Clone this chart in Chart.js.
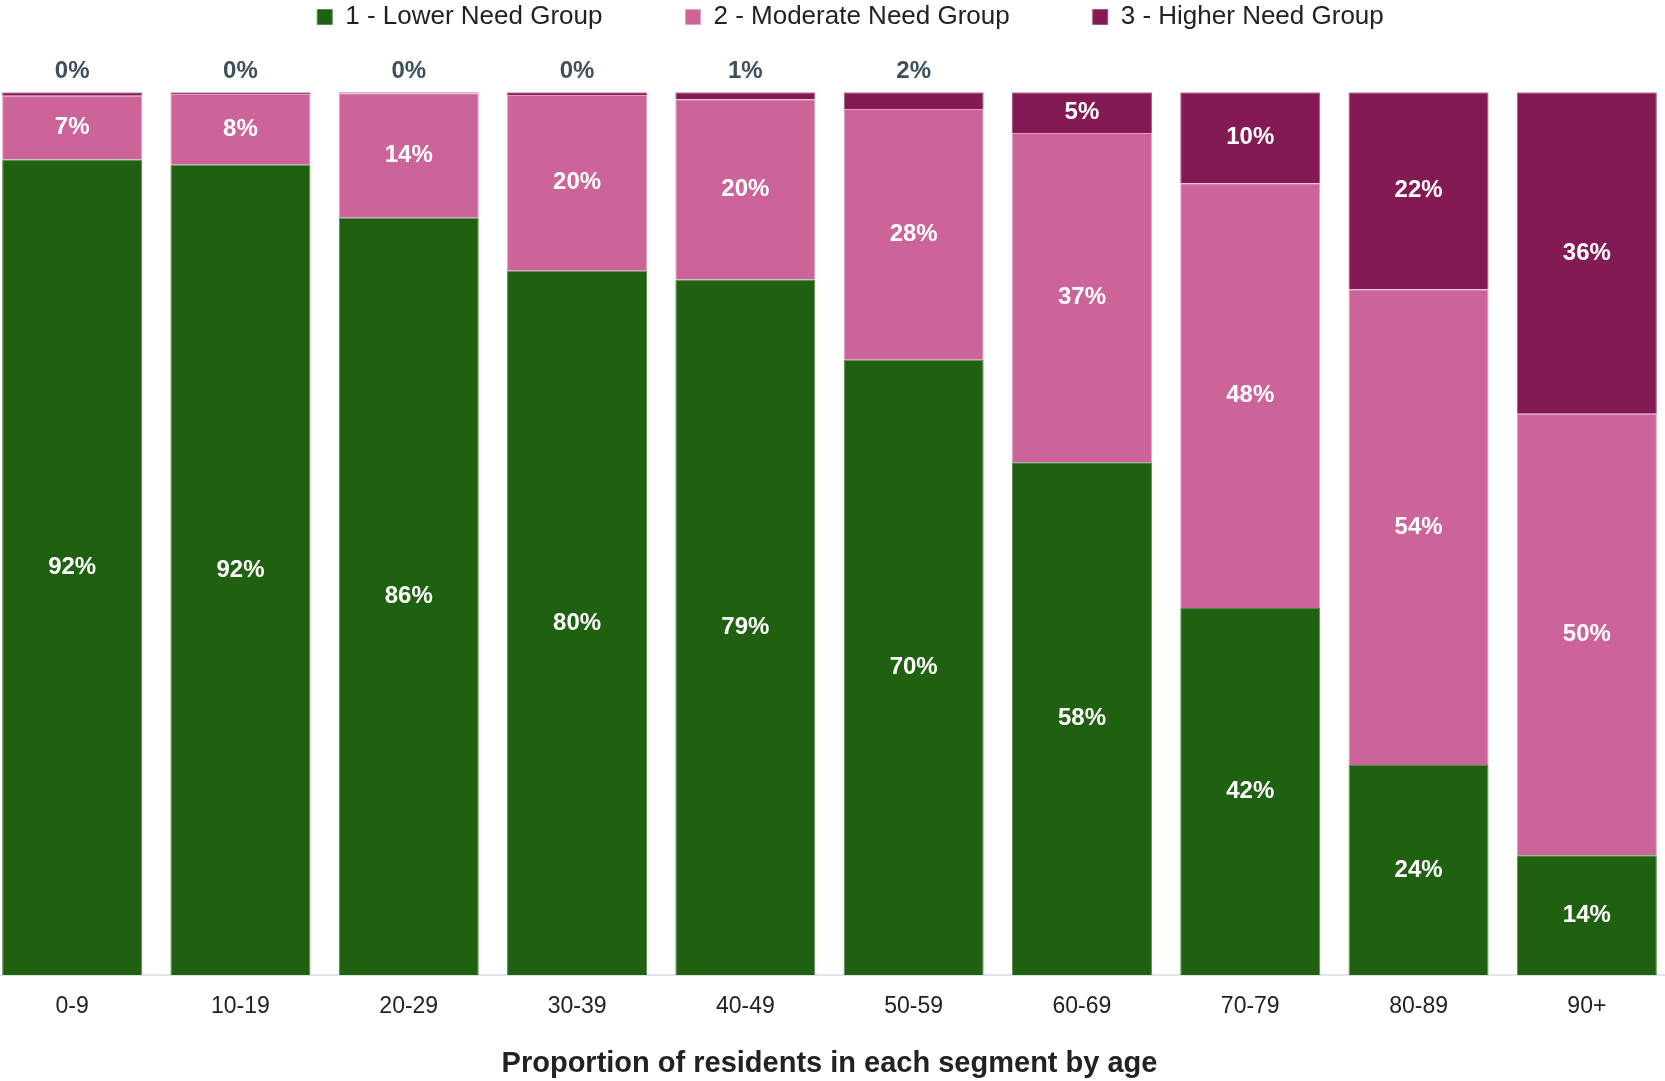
<!DOCTYPE html>
<html>
<head>
<meta charset="utf-8">
<title>Proportion of residents in each segment by age</title>
<script src="https://cdn.jsdelivr.net/npm/chart.js@4.4.0/dist/chart.umd.min.js"></script>
<style>
    html, body { margin: 0; padding: 0; background: #fff; overflow: hidden; }
    #wrap { position: absolute; left: -12px; top: 0; width: 1725px; height: 1081px; }
</style>
</head>
<body>
<div id="wrap"><canvas id="segmentChart"></canvas></div>
<script>
// Age bands and share of residents (%) in each need group
const ageGroups = ['0-9', '10-19', '20-29', '30-39', '40-49', '50-59', '60-69', '70-79', '80-89', '90+'];
const seriesNames = ['1 - Lower Need Group', '2 - Moderate Need Group', '3 - Higher Need Group'];
const lowerNeed = [92.4, 91.8, 85.8, 79.8, 78.8, 69.7, 58.1, 41.6, 23.8, 13.6];
const moderateNeed = [7.2, 8.0, 14.1, 19.9, 20.4, 28.4, 37.3, 48.1, 53.9, 50.0];
const higherNeed = [0.4, 0.2, 0.1, 0.3, 0.8, 1.9, 4.6, 10.3, 22.3, 36.4];

const fontFamily = '"Liberation Sans", Arial, sans-serif';
const colors = ['#1f6110', '#cc6499', '#841a54'];
const edgeColors = ['#5a8a4e', '#e0a0c2', '#a25580'];

// small values are written above the bar instead of inside it
const outsideLimit = 3;

const segmentLabels = {
    id: 'segmentLabels',
    afterDatasetsDraw(chart) {
        const ctx = chart.ctx;
        ctx.save();
        ctx.font = 'bold 24px ' + fontFamily;
        ctx.textAlign = 'center';
        ctx.textBaseline = 'middle';
        chart.data.datasets.forEach((ds, i) => {
            const meta = chart.getDatasetMeta(i);
            meta.data.forEach((bar, j) => {
                const v = ds.data[j];
                const text = Math.round(v) + '%';
                if (v < outsideLimit) {
                    ctx.fillStyle = '#3e4f5e';
                    ctx.fillText(text, bar.x, bar.y - 21);
                } else {
                    ctx.fillStyle = '#ffffff';
                    ctx.fillText(text, bar.x, (bar.y + bar.base) / 2);
                }
            });
        });
        ctx.restore();
    }
};

const ctx = document.getElementById('segmentChart').getContext('2d');
const segmentChart = new Chart(ctx, {
    type: 'bar',
    data: {
        labels: ageGroups,
        datasets: [lowerNeed, moderateNeed, higherNeed].map((vals, i) => ({
            label: seriesNames[i],
            data: vals,
            backgroundColor: colors[i],
            borderColor: edgeColors[i],
            borderWidth: 1,
            barPercentage: 0.832,
            categoryPercentage: 1
        }))
    },
    options: {
        responsive: true,
        maintainAspectRatio: false,
        animation: false,
        layout: { padding: { top: -79, left: 0, right: 0, bottom: 0 } },
        scales: {
            x: {
                stacked: true,
                grid: { display: false, drawTicks: false },
                border: { display: true, color: '#dfe5ea', width: 2 },
                ticks: {
                    padding: 18,
                    color: '#222',
                    font: { family: fontFamily, size: 23 }
                }
            },
            y: {
                stacked: true,
                position: 'right',
                min: 0,
                max: 100,
                grid: { display: false, drawTicks: false },
                border: { display: false },
                ticks: { display: false },
                afterFit(scale) { scale.width = 42; }
            }
        },
        plugins: {
            legend: {
                position: 'top',
                labels: {
                    boxWidth: 15,
                    boxHeight: 15,
                    padding: 83,
                    color: '#222',
                    font: { family: fontFamily, size: 26 }
                }
            },
            subtitle: {
                display: true,
                text: '',
                position: 'top',
                weight: 500,
                font: { size: 1, lineHeight: 1 },
                padding: { top: 0, bottom: 51.3 }
            },
            title: {
                display: true,
                position: 'bottom',
                fullSize: false,
                text: 'Proportion of residents in each segment by age',
                color: '#222',
                font: { family: fontFamily, size: 29, weight: 'bold', lineHeight: 1.2 },
                padding: { top: 7.4, bottom: 0 }
            },
            tooltip: { enabled: false }
        }
    },
    plugins: [segmentLabels]
});
</script>
</body>
</html>
